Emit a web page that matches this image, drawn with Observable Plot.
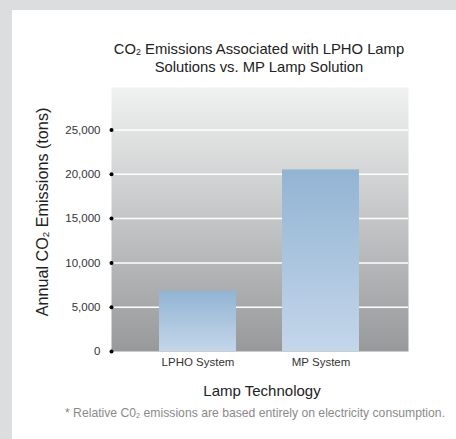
<!DOCTYPE html>
<html>
<head>
<meta charset="utf-8">
<script src="https://cdn.jsdelivr.net/npm/d3@7"></script>
<script src="https://cdn.jsdelivr.net/npm/@observablehq/plot@0.6"></script>
<style>
  body { margin: 0; }
  #wrap { position: relative; width: 456px; height: 439px; background: #dcdddf; overflow: hidden;
          font-family: "Liberation Sans", Arial, Helvetica, sans-serif; }
  #panel { position: absolute; left: 12px; top: 10px; right: 0; bottom: 0; background: #ffffff; }
  #chart { position: absolute; left: 0; top: 0; }
  .t { position: absolute; white-space: nowrap; transform: translateX(-50%); text-align: center; color: #222; }
  sub { font-size: 0.6em; line-height: 0; vertical-align: -0.15em; }
</style>
</head>
<body>
<div id="wrap">
  <div id="panel"></div>
  <div id="chart"></div>
  <div class="t" style="left:259px; top:40px; font-size:14.8px; line-height:18px;">CO<sub>2</sub> Emissions Associated with LPHO Lamp<br>Solutions vs. MP Lamp Solution</div>
  <div class="t" style="left:42px; top:212px; font-size:16.2px; transform: translate(-50%,-50%) rotate(-90deg);">Annual CO<sub>2</sub> Emissions (tons)</div>
  <div class="t" style="left:262px; top:382px; font-size:15px;">Lamp Technology</div>
  <div class="t" style="left:255px; top:406px; font-size:12.2px; color:#8a8a8a;">* Relative C0<sub>2</sub> emissions are based entirely on electricity consumption.</div>
</div>
<script>
const categories = ["LPHO System", "MP System"];
const emissions = [6800, 20500];
const yTicks = [0, 5000, 10000, 15000, 20000, 25000];

const data = categories.map((c, i) => ({category: c, value: emissions[i]}));

const chart = Plot.plot({
  width: 456,
  height: 439,
  marginLeft: 111,
  marginRight: 48,
  marginTop: 87,
  marginBottom: 88,
  style: {background: "transparent", fontFamily: "'Liberation Sans', Arial, sans-serif", fontSize: "11.5px", color: "#333"},
  x: {domain: categories, paddingInner: 0.371, paddingOuter: 0.387, label: null, tickSize: 0, tickPadding: 6},
  y: {domain: [0, 29800], ticks: yTicks, tickFormat: d3.format(","), label: null, tickSize: 0, tickPadding: 11},
  marks: [
    Plot.frame({fill: "url(#bgGrad)", stroke: "none"}),
    Plot.ruleY(yTicks.slice(1), {stroke: "white", strokeWidth: 1.5}),
    Plot.barY(data, {x: "category", y: "value", fill: "url(#barGrad)"}),
    Plot.dot(yTicks, {y: d => d, frameAnchor: "left", r: 2, fill: "black", stroke: "none"})
  ]
});

document.getElementById("chart").appendChild(chart);

const svg = d3.select(chart.tagName.toLowerCase() === "svg" ? chart : chart.querySelector("svg"));
const defs = svg.insert("defs", ":first-child");
const bg = defs.append("linearGradient").attr("id", "bgGrad").attr("x1", 0).attr("y1", 0).attr("x2", 0).attr("y2", 1);
bg.append("stop").attr("offset", "0%").attr("stop-color", "#f0f1f1");
bg.append("stop").attr("offset", "100%").attr("stop-color", "#98999b");
const bar = defs.append("linearGradient").attr("id", "barGrad").attr("x1", 0).attr("y1", 0).attr("x2", 0).attr("y2", 1);
bar.append("stop").attr("offset", "0%").attr("stop-color", "#92b4d3");
bar.append("stop").attr("offset", "100%").attr("stop-color", "#c4d6ea");
</script>
</body>
</html>
